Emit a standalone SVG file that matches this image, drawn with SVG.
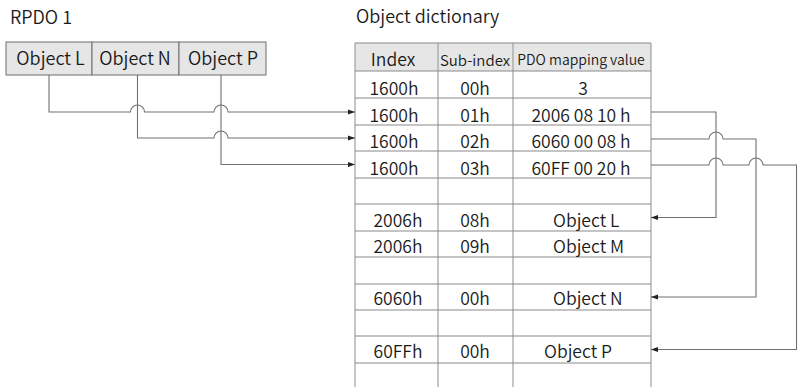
<svg xmlns="http://www.w3.org/2000/svg" width="798" height="387" viewBox="0 0 798 387">
<defs>
<marker id="ah" markerWidth="7" markerHeight="6" refX="7" refY="3" orient="auto" markerUnits="userSpaceOnUse">
<path d="M0,0.5 L7,3 L0,5.5 Z" fill="#222"/>
</marker>
<style>
text{font-family:"Noto Sans CJK SC","Noto Sans",sans-serif;fill:#1a1a1a;font-weight:350;}
.t{font-size:17.5px;}
.b{font-size:18px;}
.c{text-anchor:middle;}
.h{font-size:14px;}
.cell{fill:#e6e6e6;stroke:#6e6e6e;stroke-width:1;}
.grid{stroke:#8a8a8a;stroke-width:1.2;fill:none;}
.vgrid{stroke:#a0a0a0;stroke-width:1.2;fill:none;}
.conn{stroke:#707070;stroke-width:1.1;fill:none;}
</style>
</defs>
<rect width="798" height="387" fill="#fff"/>
<text class="b" x="10" y="24">RPDO 1</text>
<text class="b" x="356" y="23">Object dictionary</text>

<g id="rpdo">
<rect class="cell" x="6" y="42" width="86" height="33"/>
<rect class="cell" x="92" y="42" width="87" height="33"/>
<rect class="cell" x="179" y="42" width="87" height="33"/>
<text class="b c" x="50.5" y="65">Object L</text>
<text class="b c" x="135" y="65">Object N</text>
<text class="b c" x="223" y="65">Object P</text>
</g>

<g id="table">
<rect x="355" y="43" width="296" height="28" fill="#e6e6e6"/>
<path class="vgrid" d="M355,43V387M438,43V387M513,43V387M651,43V387"/>
<path class="grid" d="M355,43H651M355,71H651M355,98H651M355,125H651M355,151H651M355,178H651M355,204H651M355,231H651M355,257H651M355,284H651M355,310H651M355,336H651M355,363H651"/>
<text class="t c" x="393" y="66">Index</text>
<text class="t c" x="475" y="66" style="font-size:15px">Sub-index</text>
<text class="h c" x="581" y="65">PDO mapping value</text>

<text class="t c" x="394" y="95">1600h</text>
<text class="t c" x="475" y="95">00h</text>
<text class="t c" x="583" y="95">3</text>

<text class="t c" x="394" y="121.5">1600h</text>
<text class="t c" x="475" y="121.5">01h</text>
<text class="t c" x="581" y="121.5">2006 08 10  h</text>

<text class="t c" x="394" y="148">1600h</text>
<text class="t c" x="475" y="148">02h</text>
<text class="t c" x="581" y="148">6060 00 08  h</text>

<text class="t c" x="394" y="175">1600h</text>
<text class="t c" x="475" y="175">03h</text>
<text class="t c" x="581" y="175">60FF 00 20  h</text>

<text class="t c" x="398" y="227">2006h</text>
<text class="t c" x="475" y="227">08h</text>
<text class="t" x="553" y="227">Object L</text>

<text class="t c" x="398" y="253">2006h</text>
<text class="t c" x="475" y="253">09h</text>
<text class="t" x="553" y="253">Object M</text>

<text class="t c" x="398" y="305">6060h</text>
<text class="t c" x="475" y="305">00h</text>
<text class="t" x="553" y="305">Object N</text>

<text class="t c" x="398" y="358">60FFh</text>
<text class="t c" x="475" y="358">00h</text>
<text class="t" x="544" y="358">Object P</text>
</g>

<g id="connectors">
<path class="conn" marker-end="url(#ah)" d="M49,75V112H130.5A7,7 0 0 1 144.5,112H214A7,7 0 0 1 228,112H355"/>
<path class="conn" marker-end="url(#ah)" d="M137.5,75V138H214A7,7 0 0 1 228,138H355"/>
<path class="conn" marker-end="url(#ah)" d="M221,75V164.5H355"/>
<path class="conn" marker-end="url(#ah)" d="M651,112H716V217.5H651"/>
<path class="conn" marker-end="url(#ah)" d="M651,139H709A7,7 0 0 1 723,139H756V297H651"/>
<path class="conn" marker-end="url(#ah)" d="M651,165H709A7,7 0 0 1 723,165H749A7,7 0 0 1 763,165H796.5V349.5H651"/>
</g>
</svg>
